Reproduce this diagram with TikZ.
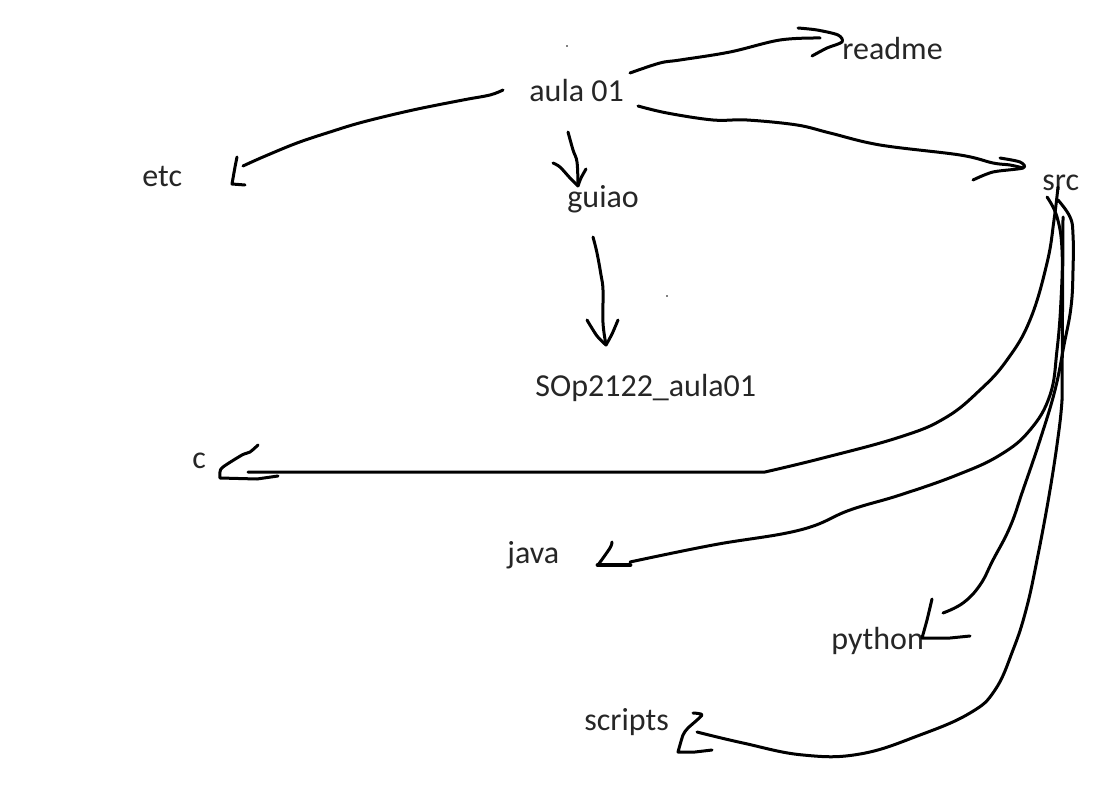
\documentclass[tikz,border=0pt]{standalone}
\usepackage{fontspec}
\setmainfont{Carlito}
\begin{document}
\begin{tikzpicture}[x=0.5pt,y=-0.5pt,
  lbl/.style={inner sep=0pt, anchor=base west, text=black!85, font=\fontsize{16}{19}\selectfont},
  ink/.style={line width=1.5pt, line cap=round, line join=round},
  thk/.style={line width=2.4pt, line cap=round, line join=round}]
\useasboundingbox[fill=white] (0,0) rectangle (1112,791);
% labels
\node[lbl] (aula) at (529,102) {aula 01};
\node[lbl] (readme) at (842,60) {readme};
\node[lbl] (etc) at (142,187) {etc};
\node[lbl] (guiao) at (567,207) {guiao};
\node[lbl] (sop) at (535,396) {SOp2122\_aula01};
\node[lbl] (src) at (1042,191) {src};
\node[lbl] (c) at (192,468) {c};
\node[lbl] (java) at (507,563) {java};
\node[lbl] (python) at (831,649) {python};
\node[lbl] (scripts) at (584,730) {scripts};
% specks
\fill (567,46) circle (0.8);
\fill (667,296) circle (0.8);
% aula -> readme
\draw[ink] plot[smooth,tension=0.6] coordinates {(630,73) (660,63) (680,60) (730,52) (780,40) (820,38)};
\draw[ink] plot[smooth,tension=0.5] coordinates {(798,28) (817,30) (838,35) (842,42) (827,48) (812,56)};
% aula -> etc
\draw[ink] plot[smooth,tension=0.6] coordinates {(503,90) (490,95) (463,100) (413,110) (363,122) (330,132) (297,143) (263,157) (243,166)};
\draw[ink] plot[smooth,tension=0.4] coordinates {(237,157) (235,167) (232,184)} -- (245,185);
% aula -> guiao
\draw[ink] plot[smooth,tension=0.6] coordinates {(568,132) (573,150) (577,162) (578,185)};
\draw[ink] plot[smooth,tension=0.5] coordinates {(553,163) (560,167) (570,178) (578,186)};
\draw[ink] plot[smooth,tension=0.5] coordinates {(586,169) (581,178) (578,186)};
% guiao -> SOp
\draw[ink] plot[smooth,tension=0.6] coordinates {(593,237) (597,253) (601,275) (603,290) (603,323) (606,345)};
\draw[ink] plot[smooth,tension=0.5] coordinates {(587,320) (597,336) (606,345)};
\draw[ink] plot[smooth,tension=0.5] coordinates {(618,320) (612,334) (606,345)};
% aula -> src
\draw[ink] plot[smooth,tension=0.6] coordinates {(638,106) (667,113) (713,120) (747,120) (797,125) (830,133) (880,145) (960,155) (993,163) (1010,165) (1023,168)};
\draw[ink] plot[smooth,tension=0.5] coordinates {(1000,158) (1020,162) (1023,168) (993,172) (973,180)};
% src -> c
\draw[ink] plot[smooth,tension=0.7] coordinates {(1058,187) (1054,220) (1047,263) (1030,320) (1007,360) (980,390) (945,418) (900,437) (823,458) (765,472)} -- (248,472);
\draw[ink] plot[smooth,tension=0.5] coordinates {(258,445) (250,452) (242,455) (223,467) (220,472) (220,478)} -- (257,479) -- (278,476);
% src -> java
\draw[ink] plot[smooth,tension=0.7] coordinates {(1047,197) (1057,217) (1062,250) (1061,300) (1057,350) (1050,395) (1030,430) (1000,455) (957,475) (900,495) (850,510) (800,530) (713,545) (630,562)};
\draw[ink] plot[smooth,tension=0.5] coordinates {(612,542) (610,548) (598,565)};
\draw[thk] (598,565) -- (630,565);
% src -> python
\draw[ink] plot[smooth,tension=0.7] coordinates {(1058,200) (1070,217) (1073,235) (1073,270) (1071,307) (1064,345) (1055,390) (1040,440) (1023,490) (1010,527) (993,560) (980,585) (963,603) (943,613)};
\draw[ink] plot[smooth,tension=0.4] coordinates {(932,599) (927,620) (922,638)} -- (950,638) -- (970,636);
% src -> scripts
\draw[ink] (1063,217) -- (1062,400);
\draw[ink] plot[smooth,tension=0.7] coordinates {(1062,400) (1059,430) (1050,490) (1037,560) (1026,610) (1013,650) (995,690) (970,713) (920,735) (860,754) (803,755) (743,743) (697,732)};
\draw[ink] plot[smooth,tension=0.4] coordinates {(693,713) (702,715) (688,728) (683,735) (678,752)} -- (695,752) -- (712,750);
\end{tikzpicture}
\end{document}
